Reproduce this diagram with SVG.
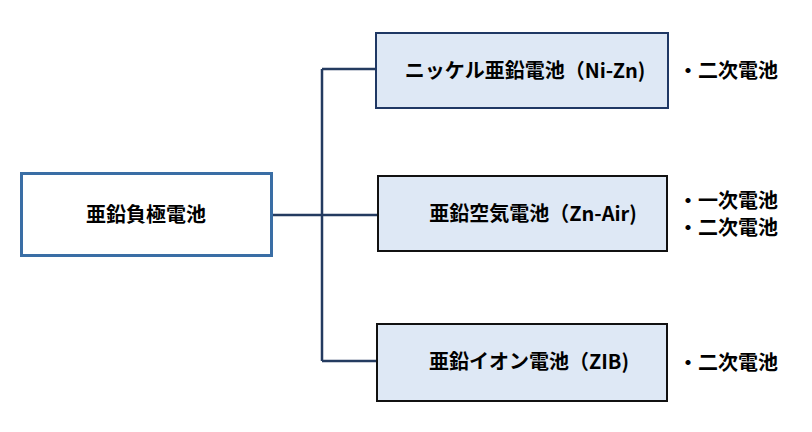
<svg xmlns="http://www.w3.org/2000/svg" width="812" height="432" viewBox="0 0 812 432">
<style>
text{font-family:"Noto Sans CJK JP","Noto Sans",sans-serif;font-weight:bold;font-size:20px;fill:#000}
.r{fill:#DEE8F5;stroke-width:2}
.c{fill:none;stroke:#243B60;stroke-width:2.5}
</style>
<rect width="812" height="432" fill="#fff"/>
<g id="connectors">
<path class="c" d="M322 69V361M322 69H376M272 215H378M322 361H377"/>
</g>
<g id="root"><rect x="21.5" y="173.5" width="250" height="82" fill="#fff" stroke="#3A6EA5" stroke-width="3"/><text x="146" y="222" text-anchor="middle" font-size="23">亜鉛負極電池</text></g>
<g id="nizn"><rect class="r" x="376" y="33" width="292" height="75" stroke="#1F3864"/><text x="525" y="78" text-anchor="middle" font-size="22">ニッケル亜鉛電池（Ni-Zn)</text></g>
<g id="znair"><rect class="r" x="378" y="176" width="289" height="75" stroke="#111"/><text x="533" y="221" text-anchor="middle" font-size="22">亜鉛空気電池（Zn-Air)</text></g>
<g id="zib"><rect class="r" x="377" y="324" width="290" height="77" stroke="#111"/><text x="529" y="369" text-anchor="middle" font-size="22">亜鉛イオン電池（ZIB)</text></g>
<g id="labels">
<text x="678" y="78">・二次電池</text>
<text x="678" y="208">・一次電池</text>
<text x="678" y="235">・二次電池</text>
<text x="678" y="370">・二次電池</text>
</g>
</svg>
